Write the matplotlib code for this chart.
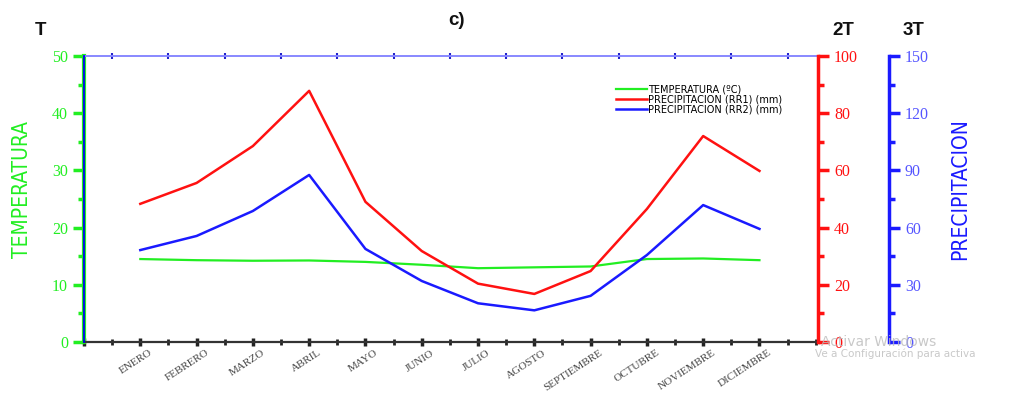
import matplotlib.pyplot as plt
import matplotlib.transforms as mtransforms
from matplotlib.ticker import MultipleLocator

months = ["ENERO", "FEBRERO", "MARZO", "ABRIL", "MAYO", "JUNIO", "JULIO",
          "AGOSTO", "SEPTIEMBRE", "OCTUBRE", "NOVIEMBRE", "DICIEMBRE"]
temperatura = [14.5, 14.3, 14.2, 14.25, 14.0, 13.5, 12.9, 13.05, 13.2, 14.5, 14.6, 14.3]
rr1 = [48.3, 55.6, 68.5, 87.8, 49.0, 31.8, 20.4, 16.8, 24.8, 46.5, 72.0, 59.8]
rr2 = [48.2, 55.6, 68.7, 87.6, 48.8, 32.0, 20.3, 16.6, 24.2, 45.6, 71.8, 59.3]

GREEN = "#22ee22"
RED = "#ff1111"
BLUE = "#1a1aff"
serif = "Liberation Serif"
narrow = ["Liberation Sans Narrow", "DejaVu Sans Condensed", "DejaVu Sans"]

x = list(range(1, len(months) + 1))

fig = plt.figure(figsize=(10.11, 3.94), dpi=100)
ax = fig.add_axes([0.0831, 0.132, 0.726, 0.726])
ax_rr1 = ax.twinx()
ax_rr2 = ax.twinx()
ax_rr2.spines["right"].set_position(("axes", 1.0967))

# Lines
l1, = ax.plot(x, temperatura, color=GREEN, lw=1.6, label="TEMPERATURA (ºC)")
l2, = ax_rr1.plot(x, rr1, color=RED, lw=1.8, label="PRECIPITACION (RR1) (mm)")
l3, = ax_rr2.plot(x, rr2, color=BLUE, lw=1.8, label="PRECIPITACION (RR2) (mm)")

ax.set_xlim(0, 13.04)
ax.set_ylim(0, 50)
ax_rr1.set_ylim(0, 100)
ax_rr2.set_ylim(0, 150)

# Spines
for a in (ax, ax_rr1, ax_rr2):
    for s in a.spines.values():
        s.set_visible(False)
ax.spines["bottom"].set_visible(True)
ax.spines["bottom"].set_color("#333333")
ax.spines["bottom"].set_linewidth(1.6)
ax.spines["top"].set_visible(True)
ax.spines["top"].set_color("#8888ff")
ax.spines["top"].set_linewidth(1.4)
ax.spines["left"].set_visible(True)
ax.spines["left"].set_color(GREEN)
ax.spines["left"].set_linewidth(3)
ax.plot([0, 0], [0, 50], color="#0000ee", lw=1.3, clip_on=False, zorder=5)
ax_rr1.spines["right"].set_visible(True)
ax_rr1.spines["right"].set_color(RED)
ax_rr1.spines["right"].set_linewidth(2.5)
ax_rr2.spines["right"].set_visible(True)
ax_rr2.spines["right"].set_color(BLUE)
ax_rr2.spines["right"].set_linewidth(2.5)

# X axis: months at ticks, minor ticks between, small ticks on top spine
ax.set_xticks(range(0, 13))
ax.set_xticklabels([""] + months, rotation=33, fontsize=8, family=serif,
                   color="#444444", ha="right", rotation_mode="anchor")
ax.xaxis.set_minor_locator(MultipleLocator(0.5))
ax.tick_params(axis="x", which="major", direction="inout", length=6, width=2.5,
               color="#222222", pad=1.5)
ax.tick_params(axis="x", which="minor", direction="inout", length=4, width=2,
               color="#222222")
shift = mtransforms.ScaledTranslation(9 / 100, 0, fig.dpi_scale_trans)
for lab in ax.get_xticklabels():
    lab.set_transform(lab.get_transform() + shift)

top = ax.secondary_xaxis("top")
top.set_xticks([i + 0.5 for i in range(13)])
top.set_xticklabels([])
top.spines["top"].set_visible(False)
top.tick_params(direction="inout", length=4, width=1.5, color="#2222cc")

# Y axes
ax.yaxis.set_major_locator(MultipleLocator(10))
ax.yaxis.set_minor_locator(MultipleLocator(5))
ax.tick_params(axis="y", which="both", colors=GREEN, width=2.5, labelsize=11.5)
ax.tick_params(axis="y", which="major", length=8)
ax.tick_params(axis="y", which="minor", length=4)

ax_rr1.yaxis.set_major_locator(MultipleLocator(20))
ax_rr1.yaxis.set_minor_locator(MultipleLocator(10))
ax_rr1.tick_params(axis="y", which="both", colors=RED, width=2.5, labelsize=11.5)
ax_rr1.tick_params(axis="y", which="major", length=8)
ax_rr1.tick_params(axis="y", which="minor", length=4)

ax_rr2.yaxis.set_major_locator(MultipleLocator(30))
ax_rr2.yaxis.set_minor_locator(MultipleLocator(15))
ax_rr2.tick_params(axis="y", which="both", colors=BLUE, width=2.5, labelsize=11.5)
ax_rr2.tick_params(axis="y", which="major", length=8)
ax_rr2.tick_params(axis="y", which="minor", length=4)
for lab in ax_rr2.get_yticklabels():
    lab.set_color("#5555ff")

for a in (ax, ax_rr1, ax_rr2):
    for lab in a.get_yticklabels():
        lab.set_family(serif)

fig.text(0.022, 0.52, "TEMPERATURA", rotation=90, color=GREEN, fontsize=15,
         family=narrow, stretch="condensed", va="center", ha="center")
fig.text(0.950, 0.52, "PRECIPITACION", rotation=90, color=BLUE, fontsize=15,
         family=narrow, stretch="condensed", va="center", ha="center")

# Corner labels and panel title
bold = dict(fontsize=13.5, fontweight="bold", family="Liberation Sans",
            color="#111111", ha="center", va="center")
fig.text(0.040, 0.922, "T", **bold)
fig.text(0.834, 0.922, "2T", **bold)
fig.text(0.904, 0.922, "3T", **bold)
fig.text(0.452, 0.948, "c)", **bold)

ax.legend(handles=[l1, l2, l3], loc="upper left",
          bbox_to_anchor=(0.72, 0.915), frameon=False, fontsize=7,
          handlelength=3.2, handletextpad=0.1, labelspacing=0.0,
          borderaxespad=0)

# Faint system watermark in the lower right corner
fig.text(0.812, 0.121, "Activar Windows", color="#bbbbbb", fontsize=10,
         alpha=0.8, family="DejaVu Sans")
fig.text(0.806, 0.093, "Ve a Configuración para activa", color="#bbbbbb",
         fontsize=7.5, alpha=0.8, family="DejaVu Sans")

fig.savefig("out.png", dpi=100)
